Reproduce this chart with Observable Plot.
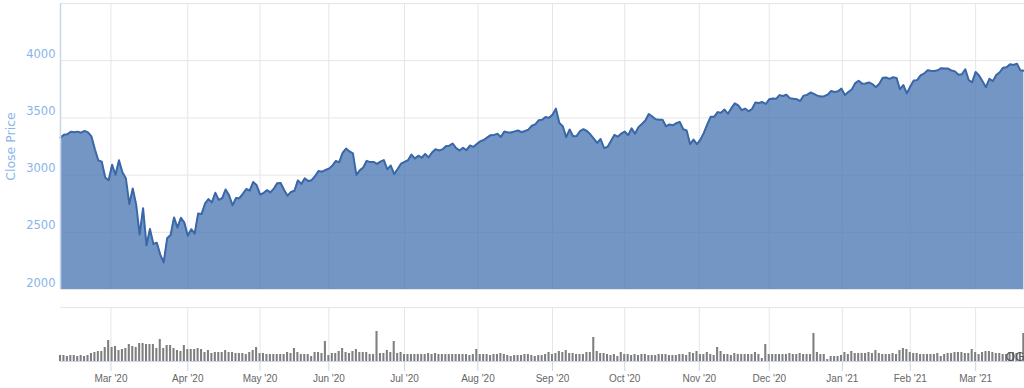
<!DOCTYPE html>
<html>
<head>
<meta charset="utf-8">
<script src="https://cdn.jsdelivr.net/npm/d3@7"></script>
<script src="https://cdn.jsdelivr.net/npm/@observablehq/plot@0.6"></script>
<style>
  html, body { margin: 0; padding: 0; background: #ffffff; }
  #chart svg { display: block; }
</style>
</head>
<body>
<div id="chart"></div>
<script>
// Trading days (ordinal x axis)
const dates = [
"2020-02-07","2020-02-10","2020-02-11","2020-02-12","2020-02-13","2020-02-14","2020-02-18","2020-02-19","2020-02-20","2020-02-21","2020-02-24","2020-02-25","2020-02-26","2020-02-27","2020-02-28",
"2020-03-02","2020-03-03","2020-03-04","2020-03-05","2020-03-06","2020-03-09","2020-03-10","2020-03-11","2020-03-12","2020-03-13","2020-03-16","2020-03-17","2020-03-18","2020-03-19","2020-03-20","2020-03-23","2020-03-24","2020-03-25","2020-03-26","2020-03-27","2020-03-30","2020-03-31",
"2020-04-01","2020-04-02","2020-04-03","2020-04-06","2020-04-07","2020-04-08","2020-04-09","2020-04-13","2020-04-14","2020-04-15","2020-04-16","2020-04-17","2020-04-20","2020-04-21","2020-04-22","2020-04-23","2020-04-24","2020-04-27","2020-04-28","2020-04-29","2020-04-30",
"2020-05-01","2020-05-04","2020-05-05","2020-05-06","2020-05-07","2020-05-08","2020-05-11","2020-05-12","2020-05-13","2020-05-14","2020-05-15","2020-05-18","2020-05-19","2020-05-20","2020-05-21","2020-05-22","2020-05-26","2020-05-27","2020-05-28","2020-05-29",
"2020-06-01","2020-06-02","2020-06-03","2020-06-04","2020-06-05","2020-06-08","2020-06-09","2020-06-10","2020-06-11","2020-06-12","2020-06-15","2020-06-16","2020-06-17","2020-06-18","2020-06-19","2020-06-22","2020-06-23","2020-06-24","2020-06-25","2020-06-26","2020-06-29","2020-06-30",
"2020-07-01","2020-07-02","2020-07-06","2020-07-07","2020-07-08","2020-07-09","2020-07-10","2020-07-13","2020-07-14","2020-07-15","2020-07-16","2020-07-17","2020-07-20","2020-07-21","2020-07-22","2020-07-23","2020-07-24","2020-07-27","2020-07-28","2020-07-29","2020-07-30","2020-07-31",
"2020-08-03","2020-08-04","2020-08-05","2020-08-06","2020-08-07","2020-08-10","2020-08-11","2020-08-12","2020-08-13","2020-08-14","2020-08-17","2020-08-18","2020-08-19","2020-08-20","2020-08-21","2020-08-24","2020-08-25","2020-08-26","2020-08-27","2020-08-28","2020-08-31",
"2020-09-01","2020-09-02","2020-09-03","2020-09-04","2020-09-08","2020-09-09","2020-09-10","2020-09-11","2020-09-14","2020-09-15","2020-09-16","2020-09-17","2020-09-18","2020-09-21","2020-09-22","2020-09-23","2020-09-24","2020-09-25","2020-09-28","2020-09-29","2020-09-30",
"2020-10-01","2020-10-02","2020-10-05","2020-10-06","2020-10-07","2020-10-08","2020-10-09","2020-10-12","2020-10-13","2020-10-14","2020-10-15","2020-10-16","2020-10-19","2020-10-20","2020-10-21","2020-10-22","2020-10-23","2020-10-26","2020-10-27","2020-10-28","2020-10-29","2020-10-30",
"2020-11-02","2020-11-03","2020-11-04","2020-11-05","2020-11-06","2020-11-09","2020-11-10","2020-11-11","2020-11-12","2020-11-13","2020-11-16","2020-11-17","2020-11-18","2020-11-19","2020-11-20","2020-11-23","2020-11-24","2020-11-25","2020-11-27","2020-11-30",
"2020-12-01","2020-12-02","2020-12-03","2020-12-04","2020-12-07","2020-12-08","2020-12-09","2020-12-10","2020-12-11","2020-12-14","2020-12-15","2020-12-16","2020-12-17","2020-12-18","2020-12-21","2020-12-22","2020-12-23","2020-12-24","2020-12-28","2020-12-29","2020-12-30","2020-12-31",
"2021-01-04","2021-01-05","2021-01-06","2021-01-07","2021-01-08","2021-01-11","2021-01-12","2021-01-13","2021-01-14","2021-01-15","2021-01-19","2021-01-20","2021-01-21","2021-01-22","2021-01-25","2021-01-26","2021-01-27","2021-01-28","2021-01-29",
"2021-02-01","2021-02-02","2021-02-03","2021-02-04","2021-02-05","2021-02-08","2021-02-09","2021-02-10","2021-02-11","2021-02-12","2021-02-16","2021-02-17","2021-02-18","2021-02-19","2021-02-22","2021-02-23","2021-02-24","2021-02-25","2021-02-26",
"2021-03-01","2021-03-02","2021-03-03","2021-03-04","2021-03-05","2021-03-08","2021-03-09","2021-03-10","2021-03-11","2021-03-12","2021-03-15","2021-03-16","2021-03-17","2021-03-18","2021-03-19"
];

// Close price series
const closePrice = [
3327.71,3352.09,3357.75,3379.45,3373.94,3380.16,3370.29,3386.15,3373.23,3337.75,3225.89,3128.21,3116.39,2978.76,2954.22,
3090.23,3003.37,3130.12,3023.94,2972.37,2746.56,2882.23,2741.38,2480.64,2711.02,2386.13,2529.19,2398.10,2409.39,2304.92,2237.40,2447.33,2475.56,2630.07,2541.47,2626.65,2584.59,
2470.50,2526.90,2488.65,2663.68,2659.41,2749.98,2789.82,2761.63,2846.06,2783.36,2799.55,2874.56,2823.16,2736.56,2799.31,2797.80,2836.74,2878.48,2863.39,2939.51,2912.43,
2830.71,2842.74,2868.44,2848.42,2881.19,2929.80,2930.32,2870.12,2820.00,2852.50,2863.70,2953.91,2922.94,2971.61,2948.51,2955.45,2991.77,3036.13,3029.73,3044.31,
3055.73,3080.82,3122.87,3112.35,3193.93,3232.39,3207.18,3190.14,3002.10,3041.31,3066.59,3124.74,3113.49,3115.34,3097.74,3117.86,3131.29,3050.33,3083.76,3009.05,3053.24,3100.29,
3115.86,3130.01,3179.72,3145.32,3169.94,3152.05,3185.04,3155.22,3197.52,3226.56,3215.57,3224.73,3251.84,3257.30,3276.02,3235.66,3215.63,3239.41,3218.44,3258.44,3246.22,3271.12,
3294.61,3306.51,3327.77,3349.16,3351.28,3360.47,3333.69,3380.35,3373.43,3372.85,3381.99,3389.78,3374.85,3385.51,3397.16,3431.28,3443.62,3478.73,3484.55,3508.01,3500.31,
3526.65,3580.84,3455.06,3426.96,3331.84,3398.96,3339.19,3340.97,3383.54,3401.20,3385.49,3357.01,3319.47,3281.06,3315.57,3236.92,3246.59,3298.46,3351.60,3335.47,3363.00,
3380.80,3348.42,3408.60,3360.97,3419.44,3446.83,3477.14,3534.22,3511.93,3488.67,3483.34,3483.81,3426.92,3443.12,3435.56,3453.49,3465.39,3400.97,3390.68,3271.03,3310.11,3269.96,
3310.24,3369.16,3443.44,3510.45,3509.44,3550.50,3545.53,3572.66,3537.01,3585.15,3626.91,3609.53,3567.79,3581.87,3557.54,3577.59,3635.41,3629.65,3638.35,3621.63,
3662.45,3669.01,3666.72,3699.12,3691.96,3702.25,3672.82,3668.10,3663.46,3647.49,3694.62,3701.17,3722.48,3709.41,3694.92,3687.26,3690.01,3703.06,3735.36,3727.04,3732.04,3756.07,
3700.65,3726.86,3748.14,3803.79,3824.68,3799.61,3801.19,3809.84,3795.54,3768.25,3798.91,3851.85,3853.07,3841.47,3855.36,3849.62,3750.77,3787.38,3714.24,
3773.86,3826.31,3830.17,3871.74,3886.83,3915.59,3911.23,3909.88,3916.38,3934.83,3932.59,3931.33,3913.97,3906.71,3876.50,3881.37,3925.43,3829.34,3811.15,
3901.82,3870.29,3819.72,3768.47,3841.94,3821.35,3875.44,3898.81,3939.34,3943.34,3968.94,3962.71,3974.12,3915.46,3913.10
];

// Volume series (billions)
const volume = [
3,3,2.5,3,3,2.5,3,2.5,3,4, 4.5,5,5,7,10.5,7,7.5,5.5,6,6.5, 8.5,7.5,7,9,9,8.5,8.5,8.5,6.5,11, 6.5,8,8,6.5,5.5,5,8,6,6,6, 6.5,6,4.5,5.5,4,4.5,4.5,4.5,
5.5,4.5,4.5,4,4,4,3.5,4.5,5.5,7, 4,4,3.5,3.5,3.5,3.5,3.5,3.5,4.5,4, 6.5,4.5,3.5,3.5,3.5,2.5,4.5,4.5,4,10, 3,4,4,5,6.5,4.5,4,5,6,4.5, 4.5,4.5,3.5,3.5,15,4,4,5.5,
4.5,10,4,4.5,3.5,3.5,3.5,3.5,3.5,3.5, 3.5,4,3.5,4,3.5,3.5,3.5,3.5,3.5,3.5, 3.5,3.5,3.5,3,3.5,6,3.5,3.5,3.5,3, 3.5,3.5,4,3.5,3,2.5,3,3,3,3.5, 3.5,3,2.5,3,3,3.5,4.5,3.5,
4,5,4.5,5.5,4,4,3.5,3.5,3.5,4.5, 4.5,12,5,4,4,3.5,3,3.5,2.5,4.5, 3.5,3.5,3,3.5,3,3.5,3.5,3,3,3, 3.5,3.5,3.5,3,3,3,3.5,3.5,3,4.5, 4,5,3.5,3.5,4.5,3.5,3,7,
5,3.5,3.5,3,4,3.5,3.5,3.5,3.5,3.5, 4.5,3.5,1.5,8.5,3.5,3.5,3.5,3.5,3.5,3.5, 4,3.5,3.5,4,3.5,3.5,3.5,14,4.5,3.5, 3.5,1,2.5,2.5,2.5,3,4.5,3.5,5,4, 4,4,4,4.5,4,5.5,4,3.5,
3.5,3.5,4,3.5,5.5,6.5,6,4.5,4,4, 3.5,3.5,3.5,3.5,3.5,4,2.5,3.5,4,4, 4.5,4.5,4.5,4,4,6,4.5,3.5,4.5,5, 5,4.5,4,4,3.5,3.5,4.5,4.5,4,4, 14
];

// Axis ticks
const tickDates = ["2020-03-01","2020-04-01","2020-05-01","2020-06-01","2020-07-01","2020-08-01","2020-09-01","2020-10-01","2020-11-01","2020-12-01","2021-01-01","2021-02-01","2021-03-01"];
const tickLabels = ["Mar '20","Apr '20","May '20","Jun '20","Jul '20","Aug '20","Sep '20","Oct '20","Nov '20","Dec '20","Jan '21","Feb '21","Mar '21"];
const priceTicks = [2000, 2500, 3000, 3500, 4000];
const priceGrid = [2000, 2500, 3000, 3500, 4000, 4500];

const data = dates.map((d, i) => ({i, date: d, close: closePrice[i], vol: volume[i]}));

// ordinal position of a calendar date between trading days
const times = dates.map(d => Date.parse(d + "T00:00:00Z"));
function ordinal(ds) {
  const v = Date.parse(ds + "T00:00:00Z");
  for (let k = 0; k < times.length - 1; k++) {
    if (times[k] <= v && v <= times[k + 1]) return k + (v - times[k]) / (times[k + 1] - times[k]);
  }
  return 0;
}
const tickPos = tickDates.map(ordinal);
const labelByPos = new Map(tickPos.map((p, k) => [p, tickLabels[k]]));

const xDomain = [0, 280.2];
const blueText = "#89b4ea";

const main = Plot.plot({
  width: 1024, height: 290,
  marginLeft: 60, marginRight: 0, marginTop: 3, marginBottom: 1,
  style: {fontFamily: "'DejaVu Sans', sans-serif", fontSize: "11px", background: "#ffffff"},
  x: {domain: xDomain, axis: null},
  y: {domain: [2000, 4500]},
  marks: [
    Plot.gridX(tickPos, {stroke: "#e6e6e6", strokeOpacity: 1}),
    Plot.gridY(priceGrid, {stroke: "#e6e6e6", strokeOpacity: 1}),
    Plot.areaY(data, {x: "i", y1: 2000, y2: "close", fill: "#4473b2", fillOpacity: 0.75}),
    Plot.lineY(data, {x: "i", y: "close", stroke: "#3a67a8", strokeWidth: 2}),
    Plot.ruleX([0], {stroke: "#ccd6eb", strokeWidth: 1.5}),
    Plot.axisY(priceTicks, {tickSize: 0, tickPadding: 5, dy: -6.5, color: blueText, label: null, tickFormat: d => String(d), fontSize: 11.5}),
    Plot.text(["Close Price"], {frameAnchor: "left", textAnchor: "middle", lineAnchor: "middle", rotate: -90, dx: -50, fill: blueText, fontSize: 12.5})
  ]
});

const vol = Plot.plot({
  width: 1024, height: 98,
  marginLeft: 60, marginRight: 0, marginTop: 17, marginBottom: 27,
  style: {fontFamily: "'Liberation Sans', Arial, sans-serif", fontSize: "9.5px", background: "#ffffff"},
  x: {domain: xDomain},
  y: {domain: [0, 27], axis: null},
  marks: [
    Plot.gridX(tickPos, {stroke: "#e6e6e6", strokeOpacity: 1}),
    Plot.ruleY([27], {stroke: "#e6e6e6"}),
    Plot.rectY(data, {x1: d => d.i - 0.3, x2: d => d.i + 0.3, y: "vol", fill: "#7f7f7f"}),
    Plot.ruleY([0], {stroke: "#ccd6eb"}),
    Plot.axisX(tickPos, {tickSize: 10, tickPadding: 3, stroke: "#ccd6eb", fill: "#666666", tickFormat: d => labelByPos.get(d), label: null, fontSize: 10}),
    Plot.text(["OG"], {frameAnchor: "bottom-right", textAnchor: "end", lineAnchor: "bottom", dy: -1, fill: "#555555", fontSize: 12})
  ]
});

document.getElementById("chart").append(main, vol);
</script>
</body>
</html>
